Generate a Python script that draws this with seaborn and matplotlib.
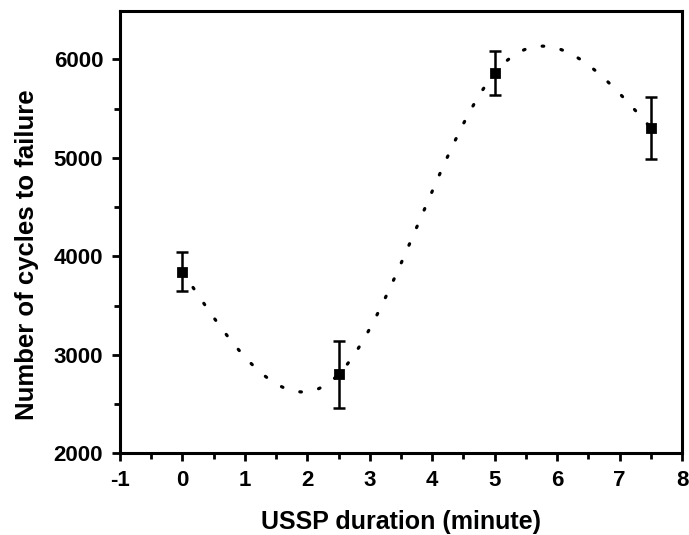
import numpy as np
import pandas as pd
import matplotlib
matplotlib.use('Agg')
import matplotlib.pyplot as plt
import seaborn as sns
from matplotlib.ticker import MultipleLocator

# data
duration = [0, 2.5, 5, 7.5]
cycles = [3845, 2800, 5860, 5305]
cycles_err = [200, 340, 225, 318]

sns.set_style('ticks')
plt.rcParams['font.family'] = ['Liberation Sans', 'DejaVu Sans']
plt.rcParams['font.weight'] = 'bold'
plt.rcParams['axes.unicode_minus'] = False
plt.rcParams['text.color'] = 'black'
plt.rcParams['axes.labelcolor'] = 'black'
plt.rcParams['xtick.color'] = 'black'
plt.rcParams['ytick.color'] = 'black'

df = pd.DataFrame({'duration': duration, 'cycles': cycles, 'err': cycles_err})


def natural_spline(x, y, n=400):
    # natural cubic spline through the points (Origin-style "spline" connect)
    x = np.asarray(x, float)
    y = np.asarray(y, float)
    k = len(x)
    h = np.diff(x)
    A = np.zeros((k, k))
    b = np.zeros(k)
    A[0, 0] = A[-1, -1] = 1
    for i in range(1, k - 1):
        A[i, i - 1] = h[i - 1]
        A[i, i] = 2 * (h[i - 1] + h[i])
        A[i, i + 1] = h[i]
        b[i] = 6 * ((y[i + 1] - y[i]) / h[i] - (y[i] - y[i - 1]) / h[i - 1])
    M = np.linalg.solve(A, b)
    xs = np.linspace(x[0], x[-1], n)
    idx = np.clip(np.searchsorted(x, xs) - 1, 0, k - 2)
    x0, x1 = x[idx], x[idx + 1]
    hh = x1 - x0
    ys = (M[idx] * (x1 - xs) ** 3 / (6 * hh) + M[idx + 1] * (xs - x0) ** 3 / (6 * hh)
          + (y[idx] / hh - M[idx] * hh / 6) * (x1 - xs)
          + (y[idx + 1] / hh - M[idx + 1] * hh / 6) * (xs - x0))
    return xs, ys


xs, ys = natural_spline(df['duration'], df['cycles'])
curve = pd.DataFrame({'duration': xs, 'cycles': ys})

fig = plt.figure(figsize=(6.89, 5.35), dpi=100)
ax = fig.add_axes([0.174, 0.153, 0.816, 0.826])

sns.lineplot(data=curve, x='duration', y='cycles', ax=ax, color='black',
             linewidth=2.3, linestyle=(0, (0.5, 5.5)), dash_capstyle='round')
ax.errorbar(df['duration'], df['cycles'], yerr=df['err'], fmt='none',
            ecolor='black', elinewidth=1.8, capsize=4.5, capthick=1.8)
sns.scatterplot(data=df, x='duration', y='cycles', ax=ax, marker='s', s=50,
                color='black', edgecolor='black', zorder=5)

ax.set_xlim(-1, 8)
ax.set_ylim(2000, 6490)
ax.xaxis.set_major_locator(MultipleLocator(1))
ax.xaxis.set_minor_locator(MultipleLocator(0.5))
ax.yaxis.set_major_locator(MultipleLocator(1000))
ax.yaxis.set_minor_locator(MultipleLocator(500))
ax.tick_params(which='major', direction='out', length=6, width=2, labelsize=16, pad=6)
ax.tick_params(which='minor', direction='out', length=4, width=2)
for s in ax.spines.values():
    s.set_linewidth(2.2)
    s.set_color('black')

ax.set_xlabel('USSP duration (minute)', fontsize=18, fontweight='bold', labelpad=14)
ax.set_ylabel('Number of cycles to failure', fontsize=18.5, fontweight='bold')
ax.yaxis.set_label_coords(-0.144, 0.45)

fig.savefig('out.png', dpi=100)
